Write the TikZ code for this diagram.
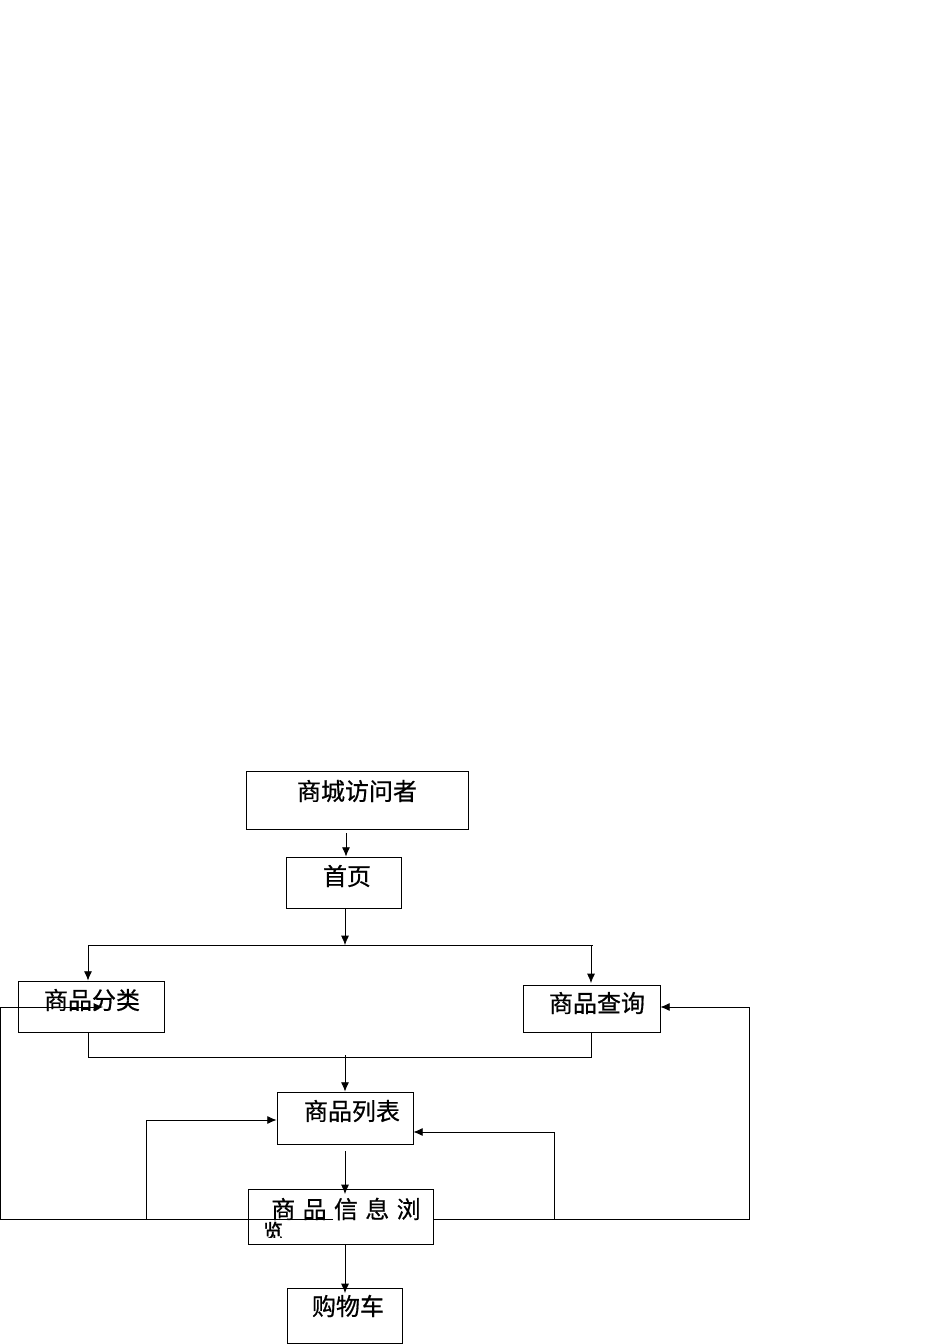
\documentclass[tikz,border=0pt]{standalone}
\usepackage{fontspec}
\setmainfont{Noto Sans CJK SC}
\newfontfamily\cjkm{Noto Sans CJK SC}[FakeBold=0.6]
\newfontfamily\cjkh{Noto Sans CJK SC}[FakeBold=1.5]
\usetikzlibrary{fit,arrows.meta,calc}
\begin{document}
\begin{tikzpicture}[x=0.75pt,y=-0.75pt,
  box/.style={draw,line width=0.6pt,inner sep=0pt},
  tx/.style={inner sep=0pt,font=\cjkm\fontsize{18}{20}\selectfont},
  ln/.style={line width=0.6pt},
  arr/.style={line width=0.6pt,-{Latex[length=7pt,width=6pt]}}]
\useasboundingbox (0,0) rectangle (950,1344);
% boxes
\node[box,fit={(246,771)(468,829)}] (visitor) {};
\node[box,fit={(286,857)(401,908)}] (home) {};
\node[box,fit={(18,981)(164,1032)}] (cat) {};
\node[box,fit={(523,985)(660,1032)}] (search) {};
\node[box,fit={(277,1092)(413,1144)}] (list) {};
\node[box,fit={(248,1189)(433,1244)}] (info) {};
\node[box,fit={(287,1288)(402,1343)}] (cart) {};
% texts
\node[tx] (t1) at (357,791) {商城访问者};
\node[tx] (t2) at (347,876) {首页};
\node[tx] (t3) at (92,1000) {商品分类};
\node[tx] (t4) at (597,1003) {商品查询};
\node[tx] (t5) at (352,1111) {商品列表};
\node[tx] (t6) at (346,1209) {商\hspace{5.5pt}品\hspace{5.5pt}信\hspace{5.5pt}息\hspace{5.5pt}浏};
\node[tx] (t8) at (348,1306) {购物车};
\begin{scope}
\clip (250,1215) rectangle (300,1237);
\node[tx,font=\cjkh\fontsize{15}{18}\selectfont] (t7) at (273,1231) {览};
\end{scope}
% coordinates
\coordinate (a1) at (346,833);
\coordinate (a2) at (345,908);
\coordinate (s1) at (345,945);
\coordinate (sl) at (88,945);
\coordinate (sr) at (593,945);
\coordinate (sr2) at (591,945);
\coordinate (sr3) at (591,983);
\coordinate (m1) at (88,1057);
\coordinate (m2) at (591,1057);
\coordinate (m3) at (345,1055);
\coordinate (b1) at (345,1151);
\coordinate (b2) at (345,1194);
\coordinate (c1) at (345,1244);
\coordinate (c2) at (345,1293);
\coordinate (L0) at (333,1219);
\coordinate (L1) at (0,1219);
\coordinate (L2) at (0,1007);
\coordinate (L3) at (103,1007);
\coordinate (P0) at (146,1219);
\coordinate (P1) at (146,1120);
\coordinate (R0) at (749,1219);
\coordinate (R1) at (749,1007);
\coordinate (Q0) at (554,1219);
\coordinate (Q1) at (554,1132);
% connectors
\draw[arr] (a1) -- (a1 |- home.north);
\draw[arr] (a2) -- (s1);
\draw[ln] (sl) -- (sr);
\draw[arr] (sl) -- (sl |- cat.north);
\draw[arr] (sr2) -- (sr3);
\draw[ln] (m1 |- cat.south) -- (m1) -- (m2) -- (m2 |- search.south);
\draw[arr] (m3) -- (m3 |- list.north);
\draw[arr] (b1) -- (b2);
\draw[arr] (c1) -- (c2);
\draw[arr] (L0) -- (L1) -- (L2) -- (L3);
\draw[arr] (P0) -- (P1) -- (P1 -| list.west);
\draw[arr] (info.east |- R0) -- (R0) -- (R1) -- (R1 -| search.east);
\draw[arr] (Q0) -- (Q1) -- (Q1 -| list.east);
\end{tikzpicture}
\end{document}
